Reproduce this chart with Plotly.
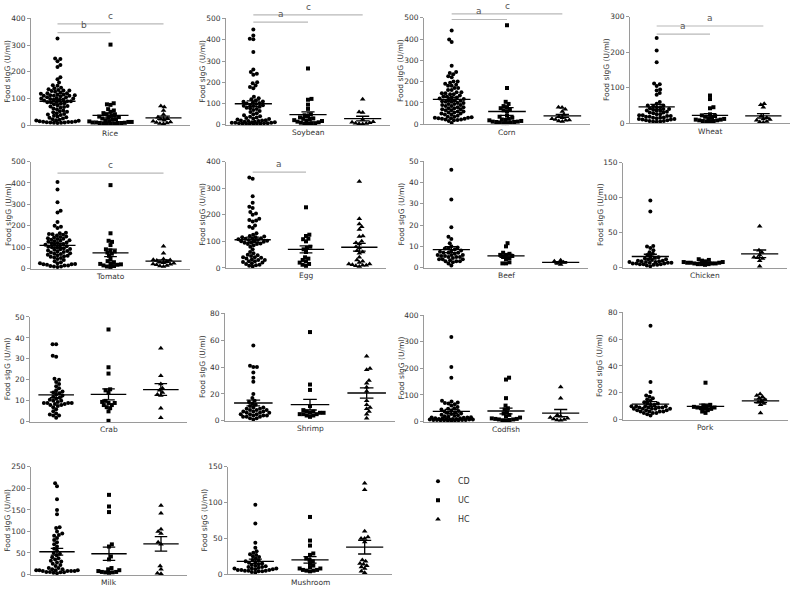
import numpy as np
import plotly.graph_objects as go

W, H = 793, 593

foods = ["Rice", "Soybean", "Corn", "Wheat", "Tomato", "Egg", "Beef", "Chicken",
         "Crab", "Shrimp", "Codfish", "Pork", "Milk", "Mushroom"]
groups = ["CD", "UC", "HC"]

rice_cd = [325, 250, 248, 240, 226, 218, 180, 172, 160, 150, 148, 140, 138, 135, 132, 130, 130, 128, 125, 122,
           120, 120, 118, 115, 115, 112, 112, 110, 110, 110, 108, 105, 105, 102, 100, 100, 98, 96, 95, 95, 92, 90,
           90, 88, 86, 85, 82, 80, 78, 75, 72, 70, 68, 65, 62, 60, 55, 52, 50, 48, 45, 42, 40, 38, 35, 32, 30, 28,
           25, 22, 20, 18, 17, 16, 15, 14, 13, 12, 12, 11, 10, 10, 9, 9, 8]
rice_uc = [302, 82, 78, 76, 60, 55, 50, 45, 40, 38, 35, 32, 30, 28, 25, 22, 20, 18, 15, 14, 12, 12, 10, 10, 9, 8,
           8, 8, 7, 6, 6, 5]
rice_hc = [72, 68, 55, 40, 30, 25, 22, 18, 15, 12, 10, 8, 6, 5]

soy_cd = [448, 420, 405, 402, 342, 260, 248, 240, 236, 200, 195, 185, 178, 172, 132, 125, 120, 115, 110, 108, 105,
          102, 100, 98, 95, 92, 90, 88, 85, 80, 78, 75, 70, 65, 60, 55, 50, 45, 40, 38, 35, 32, 30, 28, 25, 22, 20,
          20, 18, 18, 15, 15, 12, 12, 10, 10, 10, 8, 8, 8, 6, 6, 5, 5, 5, 4]
soy_uc = [265, 122, 118, 95, 75, 50, 45, 40, 35, 30, 28, 25, 22, 20, 18, 15, 12, 10, 8, 8, 6, 5]
soy_hc = [120, 60, 58, 25, 15, 12, 10, 8, 6, 5, 4]

corn_cd = [440, 398, 386, 275, 245, 240, 235, 225, 220, 200, 200, 195, 190, 185, 180, 180, 170, 170, 160, 160, 150,
           150, 145, 145, 140, 140, 135, 130, 130, 125, 125, 120, 118, 115, 112, 110, 108, 105, 105, 100, 100, 95, 95,
           90, 90, 85, 85, 80, 80, 75, 75, 70, 70, 65, 65, 60, 60, 55, 55, 50, 50, 45, 45, 40, 35, 35, 32, 30, 30, 28,
           28, 25, 25, 22, 22, 20, 18, 15, 5]
corn_uc = [465, 170, 105, 95, 85, 80, 75, 70, 65, 60, 40, 35, 30, 25, 22, 20, 18, 15, 12, 12, 10, 10, 8, 8, 5, 5]
corn_hc = [80, 78, 70, 60, 45, 35, 30, 25, 22, 20, 18, 15, 12]

wheat_cd = [240, 205, 172, 112, 110, 105, 95, 92, 85, 80, 60, 55, 50, 50, 48, 45, 45, 42, 40, 40, 38, 36, 35, 35,
            32, 30, 30, 28, 25, 25, 22, 22, 20, 20, 18, 18, 16, 15, 15, 14, 12, 12, 10, 10, 8, 8, 6, 6, 5, 5, 4]
wheat_uc = [78, 68, 45, 42, 25, 22, 20, 18, 15, 14, 12, 10, 10, 8, 8, 6, 6, 5, 5]
wheat_hc = [55, 52, 45, 20, 15, 12, 10, 8, 5, 3, 2]

tomato_cd = [405, 370, 310, 270, 262, 218, 200, 195, 190, 168, 165, 162, 160, 158, 155, 150, 148, 145, 142, 140,
             138, 135, 132, 130, 128, 125, 122, 120, 118, 115, 112, 110, 108, 105, 102, 100, 98, 95, 92, 90, 88, 85,
             82, 80, 78, 75, 72, 70, 68, 65, 62, 60, 58, 55, 52, 50, 45, 40, 35, 30, 25, 25, 22, 20, 20, 18, 15, 15,
             12, 10, 10, 8]
tomato_uc = [390, 165, 130, 125, 110, 90, 85, 80, 75, 70, 60, 45, 35, 30, 25, 22, 20, 18, 15, 12, 10, 8]
tomato_hc = [105, 72, 45, 42, 40, 38, 35, 30, 28, 25, 22, 20, 18, 15, 12, 10]

egg_cd = [340, 335, 270, 245, 230, 225, 210, 205, 200, 185, 180, 178, 175, 160, 155, 150, 130, 125, 120, 118, 115,
          115, 112, 110, 110, 108, 105, 105, 102, 100, 100, 98, 95, 95, 92, 90, 90, 85, 80, 70, 60, 55, 50, 48, 45,
          40, 40, 38, 35, 32, 30, 30, 25, 25, 22, 20, 18, 15, 12, 10, 8, 5]
egg_uc = [228, 125, 120, 110, 108, 100, 80, 75, 70, 60, 40, 35, 30, 25, 20, 15, 12, 8]
egg_hc = [325, 185, 165, 155, 145, 120, 118, 100, 95, 90, 80, 75, 65, 60, 55, 40, 30, 25, 20, 15, 15, 12, 10, 10,
          8, 5]

beef_cd = [46, 32, 19, 14.5, 13.5, 11.5, 10, 9.5, 9, 9, 8.5, 8, 8, 7.5, 7, 7, 7, 6.5, 6, 6, 6, 5.5, 5.5, 5, 5, 5,
           4.5, 4, 4, 4, 3.5, 3, 3, 3, 2.5, 2, 1]
beef_uc = [11.5, 10, 7, 6.5, 6, 6, 5.5, 5, 4.5, 4, 2.5, 2, 2]
beef_hc = [3.5, 3, 2.5, 2, 1.5]

chicken_cd = [96, 80, 31, 30, 28, 25, 22, 20, 18, 16, 15, 14, 13, 12, 12, 11, 10, 10, 9, 9, 8, 8, 8, 7, 7, 7, 6,
              6, 6, 5, 5, 5, 4, 4, 3, 2]
chicken_uc = [12, 11, 10, 9, 8, 8, 7, 7, 7, 6, 6, 6, 5, 5, 5, 4]
chicken_hc = [59, 25, 22, 18, 15, 14, 13, 10, 2]

crab_cd = [37, 37, 31.5, 31, 20.5, 20, 19, 18, 17, 16, 15, 14.5, 14, 13.5, 13, 12.5, 12, 11.5, 11, 10.5, 10, 10,
           9.5, 9, 9, 9, 9, 8.5, 8.5, 8, 8, 7.5, 7, 6, 5, 4, 3.5, 3, 3, 2]
crab_uc = [44, 26, 23, 15.5, 15, 14, 10, 9.5, 9, 9, 8, 8, 7, 6.5, 5, 0.5]
crab_hc = [35, 22, 18, 16, 15, 14, 13, 12.5, 6.5, 2]

shrimp_cd = [56, 41, 40, 40, 36, 32, 29, 20, 17, 15, 14, 13, 12, 11, 10, 10, 9, 9, 8, 8, 8, 7, 7, 7, 6, 6, 6, 5,
             5, 5, 4, 4, 4, 3, 3, 3, 2, 2, 1]
shrimp_uc = [66, 27, 23, 11, 8, 7, 7, 6, 6, 6, 5, 5, 5, 4, 4, 3]
shrimp_hc = [48, 39, 38, 30, 28, 25, 22, 15, 12, 10, 9, 7, 5, 2]

cod_cd = [318, 205, 165, 78, 75, 72, 70, 68, 65, 60, 55, 50, 48, 45, 42, 40, 38, 35, 32, 30, 28, 26, 24, 22, 20,
          18, 16, 15, 15, 14, 12, 12, 12, 10, 10, 10, 10, 8, 8, 8, 8, 6, 6, 6, 6, 5, 5, 5, 4, 4, 3]
cod_uc = [165, 158, 88, 60, 50, 45, 35, 30, 25, 20, 15, 12, 10, 10, 8, 8, 6, 5, 5]
cod_hc = [130, 88, 25, 20, 15, 12, 10, 8, 6, 5]

pork_cd = [70, 28, 20.5, 18, 17, 16, 15, 14, 13, 12, 12, 11, 11, 10, 10, 10, 10, 9, 9, 9, 9, 8, 8, 8, 8, 8, 7, 7,
           7, 6, 6, 6, 6, 5, 5, 5, 4, 3]
pork_uc = [27.5, 11, 10.5, 10, 9.5, 9, 9, 8.5, 8, 8, 7, 6, 5]
pork_hc = [19, 18, 17, 16, 15, 14, 13, 12, 11, 5]

milk_cd = [212, 205, 175, 150, 140, 110, 108, 100, 95, 92, 90, 85, 80, 75, 70, 65, 60, 55, 50, 48, 45, 40, 38, 35,
           32, 30, 28, 25, 22, 20, 15, 15, 12, 12, 10, 10, 10, 10, 8, 8, 8, 8, 6, 6, 5, 5, 4, 3]
milk_uc = [185, 158, 145, 70, 65, 42, 35, 15, 12, 10, 8, 6, 6, 5, 5, 4]
milk_hc = [160, 142, 105, 100, 95, 75, 70, 20, 12, 3, 2]

mush_cd = [97, 71, 44, 37, 32, 30, 28, 27, 25, 24, 22, 20, 19, 18, 17, 16, 15, 14, 13, 12, 11, 10, 10, 9, 8, 8, 8,
           7, 7, 6, 6, 6, 5, 5, 5, 4, 4, 3, 2]
mush_uc = [80, 47, 40, 29, 27, 22, 20, 18, 15, 12, 10, 8, 8, 6, 6, 5, 5, 4]
mush_hc = [127, 118, 60, 52, 50, 50, 45, 20, 18, 15, 14, 12, 10, 8, 4, 2]

y_max = [400, 500, 500, 300, 500, 400, 50, 150, 50, 80, 400, 80, 250, 150]
y_dtick = [100, 100, 100, 100, 100, 100, 10, 50, 10, 20, 100, 20, 50, 50]

# significance brackets: (from group, to group, height in axis units, letter)
sig = {
    "Rice": [(0, 1, 347, "b"), (0, 2, 380, "c")],
    "Soybean": [(0, 1, 483, "a"), (0, 2, 517, "c")],
    "Corn": [(0, 1, 492, "a"), (0, 2, 518, "c")],
    "Wheat": [(0, 1, 251, "a"), (0, 2, 274, "a")],
    "Tomato": [(0, 2, 446, "c")],
    "Egg": [(0, 1, 360, "a")],
}

series = {
    "Rice": [rice_cd, rice_uc, rice_hc], "Soybean": [soy_cd, soy_uc, soy_hc],
    "Corn": [corn_cd, corn_uc, corn_hc], "Wheat": [wheat_cd, wheat_uc, wheat_hc],
    "Tomato": [tomato_cd, tomato_uc, tomato_hc], "Egg": [egg_cd, egg_uc, egg_hc],
    "Beef": [beef_cd, beef_uc, beef_hc], "Chicken": [chicken_cd, chicken_uc, chicken_hc],
    "Crab": [crab_cd, crab_uc, crab_hc], "Shrimp": [shrimp_cd, shrimp_uc, shrimp_hc],
    "Codfish": [cod_cd, cod_uc, cod_hc], "Pork": [pork_cd, pork_uc, pork_hc],
    "Milk": [milk_cd, milk_uc, milk_hc], "Mushroom": [mush_cd, mush_uc, mush_hc],
}

# panel boxes in pixels: (left, right, top, bottom)
boxes = [
    (31, 190, 14.7, 123), (226, 390, 14.7, 122.7), (424, 590, 14, 122), (630, 790, 13, 121),
    (31, 190, 160, 268.7), (226, 386, 160, 268), (424, 588, 159.7, 267.7), (623, 787, 161, 267.7),
    (30, 187, 317.7, 424.3), (225, 395, 314, 423.3), (424, 588, 316, 424), (623, 788, 313, 422),
    (31, 187, 470, 579.3), (228, 392, 470, 579),
]

FONT = "DejaVu Sans"
symbols = ["circle", "square", "triangle-up"]
msizes = [4, 4, 5]
AXC = "#9a9a9a"


def swarm(vals, ppy, ppx, d=3.6, cap_units=0.4):
    cap = cap_units * ppx
    vals = np.asarray(vals, float)
    order = np.argsort(vals, kind="stable")
    placed = []
    xs = np.zeros(len(vals))
    for k, idx in enumerate(order):
        y = vals[idx] * ppy
        near = [(px, py) for px, py in placed if abs(py - y) < d]
        cands = [0.0]
        for px, py in near:
            dx = np.sqrt(d * d - (py - y) ** 2)
            cands += [px - dx, px + dx]
        sgn = 1 if k % 2 == 0 else -1
        cands.sort(key=lambda c: (round(abs(c), 6), -sgn * c))
        chosen = None
        for c in cands:
            if abs(c) > cap:
                break
            if all((c - px) ** 2 + (y - py) ** 2 >= d * d - 1e-6 for px, py in near):
                chosen = c
                break
        if chosen is None:
            grid = np.linspace(-cap, cap, 61)
            chosen = max(grid, key=lambda c: min((c - px) ** 2 + (y - py) ** 2 for px, py in near))
        xs[idx] = chosen / ppx
        placed.append((chosen, y))
    return xs


fig = go.Figure()
layout = dict(width=W, height=H, margin=dict(l=0, r=0, t=0, b=0),
              plot_bgcolor="white", paper_bgcolor="white",
              font=dict(family=FONT, size=8, color="#333"),
              showlegend=True, shapes=[], annotations=[])

for i, food in enumerate(foods):
    sfx = "" if i == 0 else str(i + 1)
    xa, ya = "x" + sfx, "y" + sfx
    l, r, t, b = boxes[i]
    ppx = (r - l) / 3.0
    ppy = (b - t) / y_max[i]
    layout["xaxis" + sfx] = dict(domain=[l / W, r / W], range=[-0.5, 2.5], anchor=ya,
                                 showline=True, linecolor=AXC, linewidth=1, showgrid=False,
                                 zeroline=False, showticklabels=False, ticks="", fixedrange=True)
    layout["yaxis" + sfx] = dict(domain=[1 - b / H, 1 - t / H], range=[0, y_max[i]], anchor=xa,
                                 tick0=0, dtick=y_dtick[i], ticks="outside", ticklen=3,
                                 tickcolor=AXC, showline=True, linecolor=AXC, linewidth=1,
                                 showgrid=False, zeroline=False,
                                 tickfont=dict(family=FONT, size=7.5, color="#333"), fixedrange=True)
    lx, ly = [], []
    for g in range(3):
        v = np.asarray(series[food][g], float)
        xs = swarm(v, ppy, ppx) + g
        fig.add_trace(go.Scatter(x=xs, y=v, mode="markers", xaxis=xa, yaxis=ya,
                                 name=groups[g], legendgroup=groups[g], showlegend=(i == 0),
                                 cliponaxis=False,
                                 marker=dict(symbol=symbols[g], size=msizes[g], color="black",
                                             line=dict(width=0))))
        m = v.mean()
        se = v.std(ddof=1) / np.sqrt(len(v))
        lx += [g - 0.34, g + 0.34, None, g, g, None, g - 0.12, g + 0.12, None, g - 0.12, g + 0.12, None]
        ly += [m, m, None, m - se, m + se, None, m + se, m + se, None, m - se, m - se, None]
    fig.add_trace(go.Scatter(x=lx, y=ly, mode="lines", xaxis=xa, yaxis=ya, showlegend=False,
                             cliponaxis=False, line=dict(color="black", width=1.3), hoverinfo="skip"))
    # titles
    layout["annotations"].append(dict(text="Food sIgG (U/ml)", textangle=-90, xref="paper", yref="paper",
                                      x=(l - 23) / W, y=1 - ((t + b) / 2) / H, showarrow=False,
                                      xanchor="center", yanchor="middle",
                                      font=dict(family=FONT, size=7.5, color="#333")))
    layout["annotations"].append(dict(text=food, xref="paper", yref="paper",
                                      x=((l + r) / 2) / W, y=1 - (b + 8) / H, showarrow=False,
                                      xanchor="center", yanchor="middle", borderpad=0,
                                      font=dict(family=FONT, size=7.5, color="#333")))
    for g0, g1, hgt, letter in sig.get(food, []):
        yd = hgt / y_max[i]
        layout["shapes"].append(dict(type="line", xref=xa, yref=ya + " domain", x0=g0, x1=g1,
                                     y0=yd, y1=yd, line=dict(color="#b8b8b8", width=1.2)))
        layout["annotations"].append(dict(text=letter, xref=xa, yref=ya + " domain",
                                          x=(g0 + g1) / 2, y=yd, yshift=1, showarrow=False,
                                          xanchor="center", yanchor="bottom",
                                          font=dict(family=FONT, size=9, color="#555")))

layout["legend"] = dict(x=418 / W, y=1 - 470 / H, xanchor="left", yanchor="top",
                        bgcolor="rgba(0,0,0,0)", font=dict(family=FONT, size=8, color="#333"),
                        itemwidth=30, tracegroupgap=0)
fig.update_layout(**layout)
fig.write_html("out.html", config={"displayModeBar": False, "staticPlot": True},
               post_script="document.body.style.margin='0';document.body.style.overflow='hidden';")
